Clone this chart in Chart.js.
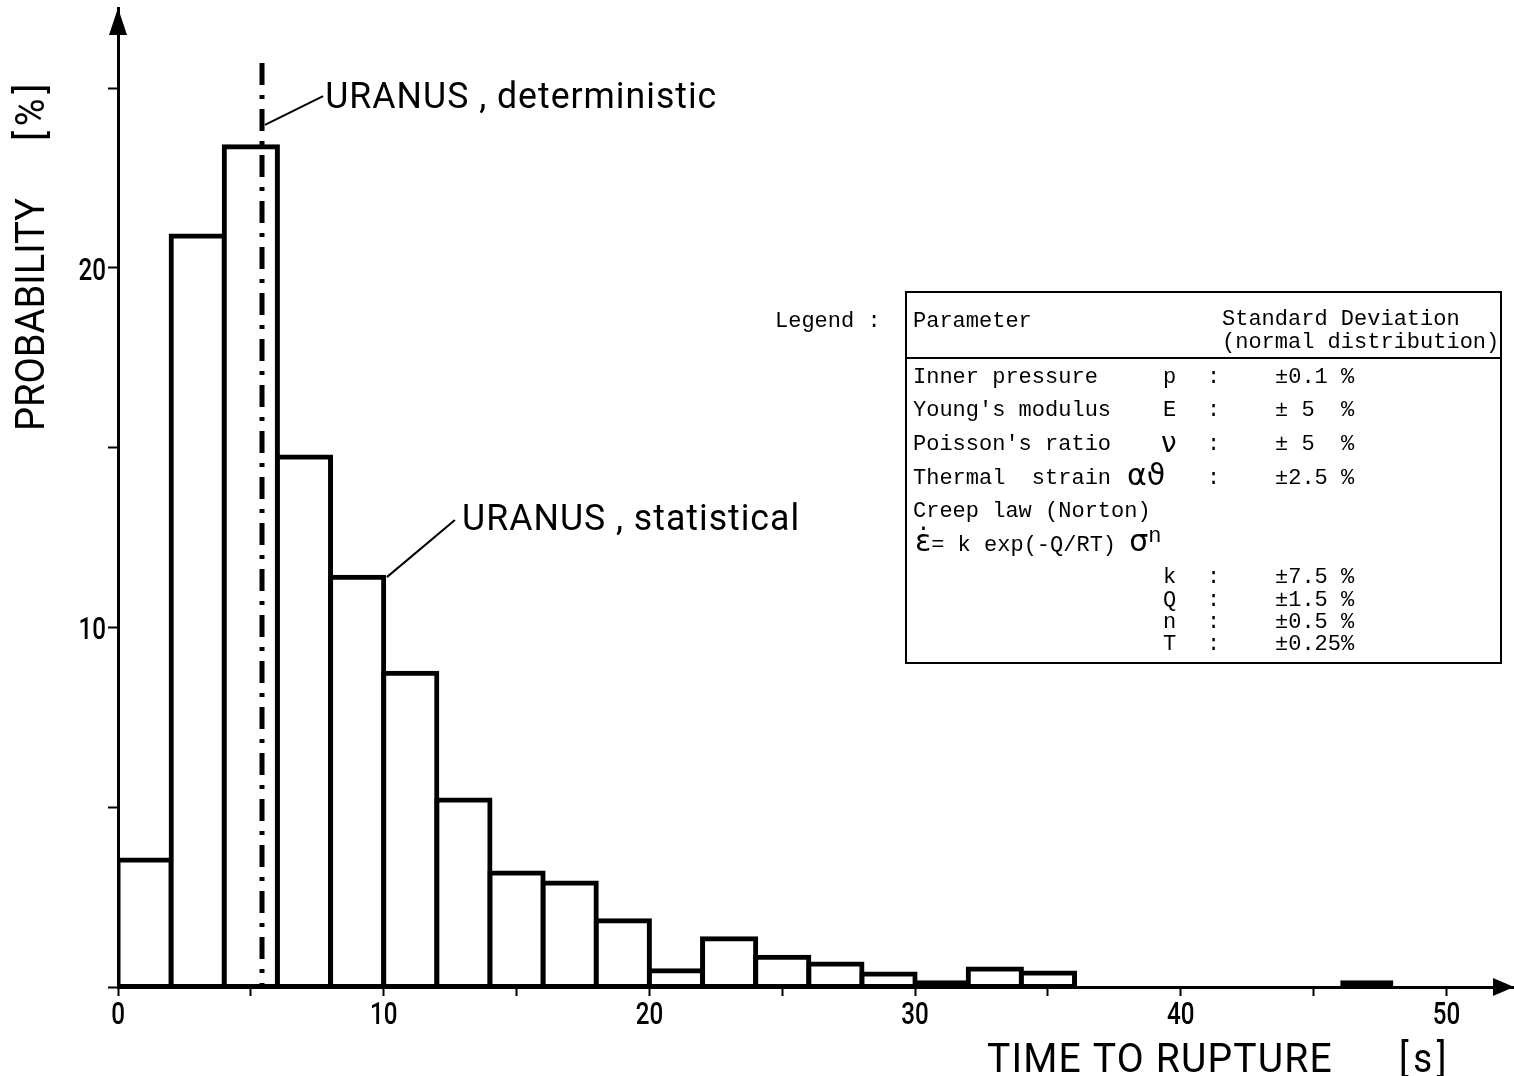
<!DOCTYPE html>
<html>
<head>
<meta charset="utf-8">
<script src="https://cdn.jsdelivr.net/npm/chart.js"></script>
<style>
html,body{margin:0;padding:0;background:#fff;}
#wrap{position:relative;width:1514px;height:1076px;overflow:hidden;}
#c{position:absolute;left:0;top:0;}
.lg{position:absolute;font-family:"Liberation Mono","DejaVu Sans Mono",monospace;font-size:22px;color:#000;line-height:1;white-space:pre;transform:translateY(-50%);}
.gk{font-family:"DejaVu Sans",sans-serif;}
#box{position:absolute;left:905px;top:291px;width:597px;height:373px;border:2px solid #000;box-sizing:border-box;}
#sep{position:absolute;left:905px;top:357px;width:597px;height:2px;background:#000;}
</style>
</head>
<body>
<div id="wrap">
<canvas id="c" width="1514" height="1076"></canvas>
<div id="legend"><div id="box"></div><div id="sep"></div></div>
</div>
<script>
// ---------- data ----------
const binStarts = [0,2,4,6,8,10,12,14,16,18,20,22,24,26,28,30,32,34,36,38,40,42,44,46,48];
const probabilityPct = [3.53,20.89,23.37,14.74,11.40,8.73,5.20,3.17,2.89,1.84,0.45,1.34,0.83,0.64,0.36,0.19,0.50,0.39,0,0,0,0,0,0.19,0];
const binWidth = 2;
const deterministicTime = [5.42, 5.42];
const deterministicLevel = [25.7, 0];
const xLabelValues = [0,10,20,30,40,50];
const yLabelValues = [10,20];
const annotationTexts = ["URANUS , deterministic", "URANUS , statistical"];
const xTitle = ["TIME TO RUPTURE", "[s]"];
const yTitle = ["PROBABILITY", "[%]"];

const paramNames = ["Inner pressure", "Young's modulus", "Poisson's ratio", "Thermal  strain"];
const paramSymbols = ["p", "E", "ν", "αϑ"];
const paramSD = ["±0.1 %", "± 5  %", "± 5  %", "±2.5 %"];
const creepSymbols = ["k", "Q", "n", "T"];
const creepSD = ["±7.5 %", "±1.5 %", "±0.5 %", "±0.25%"];

// ---------- legend table (HTML text) ----------
const L = document.getElementById('legend');
function put(html, left, cy, extra) {
  const d = document.createElement('div');
  d.className = 'lg';
  d.style.left = left + 'px';
  d.style.top = cy + 'px';
  if (extra) d.style.cssText += extra;
  d.innerHTML = html;
  L.appendChild(d);
}
function esc(s){return s.replace(/&/g,'&amp;').replace(/</g,'&lt;');}
put('Legend :', 775, 322);
put('Parameter', 913, 322);
put('Standard Deviation', 1222, 320);
put('(normal distribution)', 1222, 343);
const paramRowY = [378, 411, 445, 479];
paramNames.forEach((n, i) => {
  const cy = paramRowY[i];
  put(esc(n), 913, cy);
  const sym = paramSymbols[i];
  if (sym === 'ν') put('<span class="gk" style="font-size:28px">ν</span>', 1161, cy - 2);
  else if (sym === 'αϑ') put('<span class="gk" style="font-size:30px">αϑ</span>', 1127, cy - 4);
  else put(sym, 1163, cy);
  put(':', 1207, cy);
  put(esc(paramSD[i]), 1275, cy);
});
put('Creep law (Norton)', 913, 512);
put('<span class="gk" style="font-size:30px">ε̇</span>= k exp(-Q/RT) <span class="gk" style="font-size:30px">σ</span><span style="position:relative;top:-9px">n</span>', 915, 541);
const creepRowY = [578, 601, 623, 645];
creepSymbols.forEach((s, i) => {
  put(s, 1163, creepRowY[i]);
  put(':', 1207, creepRowY[i]);
  put(esc(creepSD[i]), 1275, creepRowY[i]);
});

// ---------- chart ----------
function drawText(ctx, text, x, y, align, sx, maxW, spacing) {
  ctx.save();
  ctx.translate(x, y);
  ctx.scale(sx, 1);
  ctx.textAlign = align;
  ctx.textBaseline = 'alphabetic';
  ctx.letterSpacing = (spacing || 0) + 'px';
  if (maxW) ctx.fillText(text, 0, 0, maxW / sx); else ctx.fillText(text, 0, 0);
  ctx.restore();
}

const overlayPlugin = {
  id: 'overlay',
  afterDraw(chart) {
    const { ctx, chartArea: a, scales: { x, y } } = chart;
    const y0 = y.getPixelForValue(0);
    ctx.save();
    ctx.fillStyle = '#000';
    ctx.strokeStyle = '#000';
    // axis arrows
    ctx.beginPath();
    ctx.moveTo(a.right, y0);
    ctx.lineTo(a.right - 21, y0 - 9);
    ctx.lineTo(a.right - 21, y0 + 9);
    ctx.closePath();
    ctx.fill();
    ctx.beginPath();
    ctx.moveTo(a.left, a.top);
    ctx.lineTo(a.left - 9, a.top + 27);
    ctx.lineTo(a.left + 9, a.top + 27);
    ctx.closePath();
    ctx.fill();

    // tick labels
    ctx.font = '500 31px Roboto';
    x.ticks.forEach(t => {
      if (xLabelValues.includes(t.value)) {
        drawText(ctx, String(t.value), x.getPixelForValue(t.value), 1024, 'center', 0.78);
      }
    });
    y.ticks.forEach(t => {
      if (yLabelValues.includes(t.value)) {
        drawText(ctx, String(t.value), a.left - 12, y.getPixelForValue(t.value) + 12, 'right', 0.78);
      }
    });

    // axis titles
    ctx.font = '400 40px Roboto';
    drawText(ctx, xTitle[0], 987, 1072, 'left', 1, 346, 1.2);
    drawText(ctx, xTitle[1], 1399, 1072, 'left', 1, 52, 5);
    ctx.save();
    ctx.translate(44, 0);
    ctx.rotate(-Math.PI / 2);
    ctx.font = '400 40px Roboto';
    ctx.textBaseline = 'alphabetic';
    ctx.textAlign = 'left';
    ctx.fillText(yTitle[0], -431, 0, 233);
    ctx.letterSpacing = '5px';
    ctx.fillText(yTitle[1], -141, 0, 62);
    ctx.letterSpacing = '0px';
    ctx.restore();

    // annotations with leader lines (anchored in data units)
    const ann = chart.options.plugins.overlay.annotations;
    ctx.lineWidth = 2;
    ctx.font = '400 36px Roboto';
    ann.forEach((an, i) => {
      ctx.beginPath();
      ctx.moveTo(x.getPixelForValue(an.from[0]), y.getPixelForValue(an.from[1]));
      ctx.lineTo(x.getPixelForValue(an.to[0]), y.getPixelForValue(an.to[1]));
      ctx.stroke();
      drawText(ctx, annotationTexts[i], x.getPixelForValue(an.text[0]), y.getPixelForValue(an.text[1]), 'left', 1, an.width, 1);
    });
    ctx.restore();
  }
};

const barData = binStarts.map((s, i) => ({ x: s + binWidth / 2, y: probabilityPct[i] }));
const lineData = deterministicTime.map((t, i) => ({ x: t, y: deterministicLevel[i] }));

new Chart(document.getElementById('c'), {
  type: 'bar',
  data: {
    datasets: [
      {
        type: 'bar',
        data: barData,
        backgroundColor: '#fff',
        borderColor: c => (c.raw && c.raw.y > 0) ? '#000' : 'rgba(0,0,0,0)',
        borderWidth: 5,
        inflateAmount: c => (c.raw && c.raw.y > 0.25) ? 2.5 : 0,
        borderSkipped: false,
        barPercentage: 1,
        categoryPercentage: 1,
        order: 2
      },
      {
        type: 'line',
        data: lineData,
        borderColor: '#000',
        borderWidth: 5,
        borderDash: [22, 10, 4, 10],
        borderCapStyle: 'butt',
        pointRadius: 0,
        fill: false,
        order: 1
      }
    ]
  },
  options: {
    responsive: false,
    animation: false,
    devicePixelRatio: 1,
    layout: { padding: { left: 0, top: 8, right: 0, bottom: 0 } },
    plugins: {
      legend: { display: false },
      tooltip: { enabled: false },
      overlay: {
        annotations: [
          { from: [5.53, 23.98], to: [7.72, 24.78], text: [7.8, 24.45], width: 392 },
          { from: [10.12, 11.40], to: [12.68, 12.99], text: [12.95, 12.72], width: 338 }
        ]
      }
    },
    scales: {
      x: {
        type: 'linear',
        min: 0,
        max: 52.54,
        offset: false,
        ticks: { stepSize: 5, display: false, includeBounds: false },
        grid: { display: true, offset: false, drawOnChartArea: false, drawTicks: true, tickLength: 9, tickWidth: 2, tickColor: '#000' },
        border: { display: true, color: '#000', width: 3 },
        afterFit: s => { s.height = 89; }
      },
      y: {
        type: 'linear',
        min: 0,
        max: 27.23,
        ticks: { stepSize: 5, display: false, includeBounds: false },
        grid: { display: true, drawOnChartArea: false, drawTicks: true, tickLength: 10, tickWidth: 2, tickColor: '#000' },
        border: { display: true, color: '#000', width: 3 },
        afterFit: s => { s.width = 118; }
      }
    }
  },
  plugins: [overlayPlugin]
});
</script>
</body>
</html>
